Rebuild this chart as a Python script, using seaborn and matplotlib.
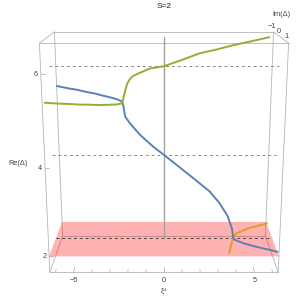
import matplotlib
matplotlib.use("Agg")
import matplotlib.pyplot as plt
import seaborn as sns
from mpl_toolkits.mplot3d import proj3d
from mpl_toolkits.mplot3d.art3d import Poly3DCollection

sns.set_theme(style="white")
plt.rcParams['font.family'] = ['Liberation Sans', 'DejaVu Sans']

# --- data: (xi^4, Im(Delta), Re(Delta)) per root ---
blue_xi = [-6.25, -5.5, -5.0, -4.5, -4.0, -3.5, -3.0, -2.6, -2.4, -2.3,
           -2.24, -2.21, -2.15, -1.88, -1.33, -0.60, 0.0, 0.71, 1.65, 2.61,
           3.19, 3.68, 3.96, 4.03, 4.1, 4.3, 4.6, 5.0, 5.5, 6.0, 6.3]
blue_im = [-0.92, -0.82, -0.76, -0.68, -0.60, -0.50, -0.38, -0.26, -0.15, 0.0,
           0.0, 0.0, 0.0, 0.0, 0.0, 0.0, 0.0, 0.0, 0.0, 0.0,
           0.0, 0.0, 0.0, 0.0, 0.12, 0.24, 0.36, 0.50, 0.63, 0.75, 0.83]
blue_re = [5.39, 5.35, 5.33, 5.30, 5.28, 5.25, 5.23, 5.21, 5.20, 5.19,
           5.10, 5.00, 4.87, 4.72, 4.46, 4.19, 4.00, 3.77, 3.46, 3.14,
           2.86, 2.54, 2.22, 2.01, 2.01, 2.02, 2.02, 2.03, 2.03, 2.03, 2.03]

green_xi = [-6.2, -5.5, -5.0, -4.5, -4.0, -3.5, -3.0, -2.6, -2.4, -2.3,
            -2.23, -2.13, -2.02, -1.85, -1.67, -1.30, -0.76, 0.0, 0.87, 1.94,
            2.84, 3.72, 4.63, 5.53, 5.69]
green_im = [0.92, 0.82, 0.76, 0.68, 0.60, 0.50, 0.38, 0.26, 0.15, 0.0,
            0.0, 0.0, 0.0, 0.0, 0.0, 0.0, 0.0, 0.0, 0.0, 0.0,
            0.0, 0.0, 0.0, 0.0, 0.0]
green_re = [5.39, 5.35, 5.33, 5.30, 5.28, 5.25, 5.23, 5.21, 5.20, 5.19,
            5.32, 5.47, 5.62, 5.73, 5.79, 5.86, 5.95, 6.00, 6.12, 6.28,
            6.36, 6.45, 6.53, 6.61, 6.625]

orange_xi = [3.82, 3.83, 3.92, 3.99, 4.03, 4.1, 4.3, 4.6, 5.0, 5.5, 6.0, 6.3]
orange_im = [0.0, 0.0, 0.0, 0.0, 0.0, -0.12, -0.24, -0.36, -0.50, -0.63, -0.75, -0.83]
orange_re = [1.625, 1.64, 1.82, 1.93, 2.01, 2.01, 2.02, 2.02, 2.03, 2.03, 2.03, 2.03]

ref_levels = [2, 4, 6]          # dashed lines in the Im=0 plane
plane_re = 2                     # translucent Re(Delta)=2 plane
xi_major = [-5, 0, 5]
xi_minor = [-6, -4, -3, -2, -1, 1, 2, 3, 4, 6]
re_ticks = [2, 4, 6]
im_ticks = [-1, 0, 1]

XI_LIM = (-6.3, 6.3)
IM_LIM = (-1.0, 1.0)
RE_LIM = (1.625, 6.625)

BLUE, ORANGE, GREEN = '#5e81b5', '#e19c24', '#8fb032'
EDGE = '#b4b4b4'
TXT = '#444444'

W, H = 302, 298
SIDE = 289                       # px side of the square 3d axes
ZOOM = 320 / SIDE                # box zoom so it still fills the same area
CX, CY = 164, 149.6              # px where the view centre lands
left = CX - 0.5135 * SIDE
bottom = (H - CY) - 0.5135 * SIDE

fig = plt.figure(figsize=(W / 100, H / 100), dpi=100)
ax = fig.add_axes([left / W, bottom / H, SIDE / W, SIDE / H], projection='3d')
ax.set_proj_type('persp', focal_length=0.42 * ZOOM)
ax.view_init(elev=15.4, azim=-90, roll=0)
ax.set_box_aspect((1, 0.415, 1), zoom=ZOOM)
try:
    ax.set_xlim(*XI_LIM, view_margin=0)
    ax.set_ylim(IM_LIM[1], IM_LIM[0], view_margin=0)   # Im grows towards the viewer
    ax.set_zlim(*RE_LIM, view_margin=0)
except TypeError:
    ax.set_xlim(*XI_LIM)
    ax.set_ylim(IM_LIM[1], IM_LIM[0])
    ax.set_zlim(*RE_LIM)
ax.set_axis_off()
ax.computed_zorder = False

x0, x1 = XI_LIM
y0, y1 = IM_LIM
z0, z1 = RE_LIM


def label3d(x, y, z, s, **kw):
    # project once and place the tick label as plain 2d text
    px, py, _ = proj3d.proj_transform(x, y, z, ax.get_proj())
    ax.text2D(px, py, s, transform=ax.transData, color=TXT, fontsize=5.3,
              ha='center', va='center', **kw)


def fmt(t):
    return '−%d' % -t if t < 0 else str(t)


# bounding box
for y in (y0, y1):
    for z in (z0, z1):
        ax.plot([x0, x1], [y, y], [z, z], color=EDGE, lw=0.6, zorder=1)
for x in (x0, x1):
    for z in (z0, z1):
        ax.plot([x, x], [y0, y1], [z, z], color=EDGE, lw=0.6, zorder=1)
    for y in (y0, y1):
        ax.plot([x, x], [y, y], [z0, z1], color=EDGE, lw=0.6, zorder=1)

# Re = 2 plane
plane = Poly3DCollection([[(x0, y0, plane_re), (x1, y0, plane_re),
                           (x1, y1, plane_re), (x0, y1, plane_re)]],
                         facecolor=(1, 0, 0, 0.3), edgecolor='none', zorder=2)
ax.add_collection3d(plane)

# reference lines in the Im=0 plane
for lev in ref_levels:
    col = '#444444' if lev == plane_re else '#8c8c8c'
    ax.plot([x0, x1], [0, 0], [lev, lev], color=col, lw=0.7,
            ls=(0, (3, 3)), zorder=3)
ax.plot([0, 0], [0, 0], [plane_re, z1], color='#a0a0a0', lw=1.0, zorder=3)

# roots
ax.plot(orange_xi, orange_im, orange_re, color=ORANGE, lw=1.4, zorder=4)
ax.plot(blue_xi, blue_im, blue_re, color=BLUE, lw=1.4, zorder=5)
ax.plot(green_xi, green_im, green_re, color=GREEN, lw=1.4, zorder=5)

# ticks on the xi axis (front bottom edge)
for t in xi_major:
    ax.plot([t, t], [y1, y1 - 0.25], [z0, z0], color=EDGE, lw=0.6, zorder=1)
    label3d(t, y1, z0 - 0.2, fmt(t))
for t in xi_minor:
    ax.plot([t, t], [y1, y1 - 0.15], [z0, z0], color=EDGE, lw=0.5, zorder=1)

# ticks on the Re axis (front left edge)
for t in re_ticks:
    ax.plot([x0, x0 + 0.2], [y1, y1], [t, t], color=EDGE, lw=0.6, zorder=1)
    label3d(x0 - 0.25, y1, t, str(t))

# ticks on the Im axis (top right edge)
for t in im_ticks:
    label3d(x1 - 0.1, t, z1 + 0.13, fmt(t))

fig.text(164 / W, 1 - 6.3 / H, 'S=2', fontsize=6, color='#222222',
         ha='center', va='center')
fig.text(18.5 / W, 1 - 163.3 / H, 'Re(Δ)', fontsize=5.3, color=TXT,
         ha='center', va='center')
fig.text(281 / W, 1 - 14.5 / H, 'Im(Δ)', fontsize=5.3, color=TXT,
         ha='center', va='center')
fig.text(164 / W, 1 - 290.5 / H, 'ξ⁴', fontsize=5.3, color=TXT,
         ha='center', va='center')

fig.savefig('out.png', dpi=100, facecolor='white')
